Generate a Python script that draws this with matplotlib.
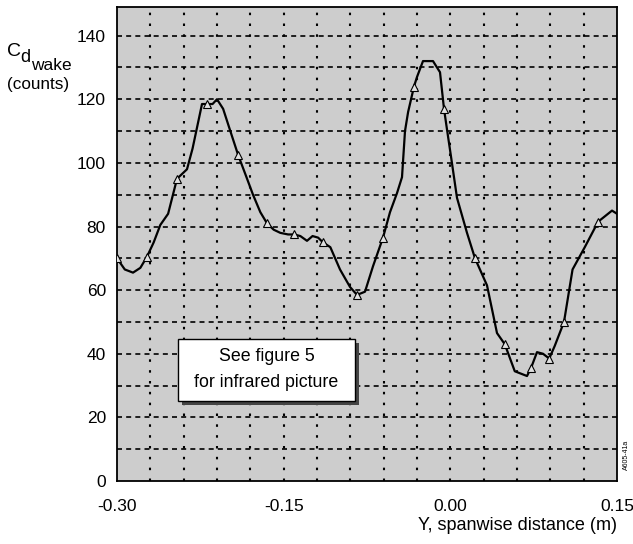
import matplotlib
matplotlib.use("Agg")
import matplotlib.pyplot as plt
from matplotlib.patches import Rectangle

plt.rcParams['font.family'] = ['Liberation Sans', 'DejaVu Sans']

# ---- data ----
y_span = [-0.300, -0.293, -0.2856, -0.279, -0.273, -0.267, -0.261, -0.254, -0.246, -0.237,
          -0.232, -0.2235, -0.219, -0.214, -0.210, -0.2045, -0.198, -0.191, -0.184, -0.1776,
          -0.171, -0.165, -0.159, -0.153, -0.146, -0.1407, -0.135, -0.129, -0.124, -0.119,
          -0.1146, -0.108, -0.0993, -0.0903, -0.084, -0.0768, -0.0696, -0.0606, -0.0543, -0.048,
          -0.0435, -0.0408, -0.038, -0.0327, -0.030, -0.0246, -0.0156, -0.0093, -0.0057, -0.003,
          0.0006, 0.006, 0.015, 0.0222, 0.033, 0.042, 0.049, 0.058, 0.069, 0.0726,
          0.078, 0.0834, 0.089, 0.094, 0.1023, 0.110, 0.121, 0.133, 0.1455, 0.150]
cd_wake = [70, 66.5, 65.5, 67, 70.5, 75, 80.5, 84, 95, 98,
           104.5, 118.5, 118.5, 118.5, 120, 117, 110, 102.5, 96, 90,
           84.5, 81, 79, 78, 77.5, 77.5, 77, 75.5, 77, 76.5,
           75, 73.5, 66.5, 61, 58.5, 59.5, 67.5, 76.5, 84.5, 90.5,
           95.5, 110, 116, 124, 127, 132, 132, 128.5, 117, 110.5,
           102, 89, 78, 70, 61.5, 46.5, 43, 34.5, 33, 35.5,
           40.5, 40, 38.5, 42.5, 50, 66.5, 73.5, 81.5, 85, 84]

mark_span = [-0.300, -0.273, -0.246, -0.219, -0.191, -0.165, -0.1407, -0.1146, -0.084,
             -0.0606, -0.0327, -0.0057, 0.0222, 0.049, 0.0726, 0.089, 0.1023, 0.133]
mark_cd = [70, 70.5, 95, 118.5, 102.5, 81, 77.5, 75, 58.5,
           76.5, 124, 117, 70, 43, 35.5, 38.5, 50, 81.5]

x_ticks = [-0.30, -0.15, 0.00, 0.15]
x_ticklabels = ['-0.30', '-0.15', '0.00', '0.15']
y_ticks = [0, 20, 40, 60, 80, 100, 120, 140]

fig = plt.figure(figsize=(6.33, 5.44), dpi=100)
ax = fig.add_axes([117/633, 63/544, 500/633, 474/544])
ax.set_facecolor('#cdcdcd')
ax.set_xlim(-0.30, 0.15)
ax.set_ylim(0, 149)

# grid
for gx in [-0.27 + 0.03*i for i in range(14)]:
    ax.axvline(gx, color='black', lw=1.5, ls=(0, (1.2, 4.0)), zorder=1)
for gy in range(10, 150, 10):
    ax.axhline(gy, color='black', lw=1.2, ls=(0, (3.0, 2.5)), zorder=1)

ax.plot(y_span, cd_wake, color='black', lw=1.6, zorder=3)
ax.plot(mark_span, mark_cd, ls='none', marker='^', ms=5.5, mfc='#e0e0e0', mec='black',
        mew=0.8, zorder=4)

ax.set_xticks(x_ticks)
ax.set_xticklabels(x_ticklabels)
ax.set_yticks(y_ticks)
ax.tick_params(length=0, labelsize=12.5)
ax.tick_params(axis='x', pad=13)
ax.tick_params(axis='y', pad=8)
for sp in ax.spines.values():
    sp.set_linewidth(1.3)

# text box with shadow
ax.add_patch(Rectangle((-0.2415, 24.0), 0.159, 19.5, facecolor='#444444', edgecolor='none',
                       zorder=5))
ax.add_patch(Rectangle((-0.245, 25.2), 0.159, 19.5, facecolor='white', edgecolor='black',
                       lw=1.0, zorder=6))
ax.text(-0.1655, 39.0, 'See figure 5', ha='center', va='center', fontsize=12.8, zorder=7)
ax.text(-0.1655, 31.0, 'for infrared picture', ha='center', va='center', fontsize=12.8, zorder=7)

# y-axis label
fig.text(7/633, 1 - 52/544, 'C', fontsize=14, ha='left', va='center')
fig.text(20.5/633, 1 - 58/544, 'd', fontsize=13, ha='left', va='center')
fig.text(31.5/633, 1 - 65/544, 'wake', fontsize=12.5, ha='left', va='center')
fig.text(38/633, 1 - 85/544, '(counts)', fontsize=12.3, ha='center', va='center')

# x-axis label
fig.text(617/633, 1 - 526/544, 'Y, spanwise distance (m)', fontsize=13, ha='right', va='center')

fig.text(626/633, 1 - 455/544, 'A605-41a', fontsize=5, rotation=90, ha='center', va='center')

fig.savefig('out.png', dpi=100)
